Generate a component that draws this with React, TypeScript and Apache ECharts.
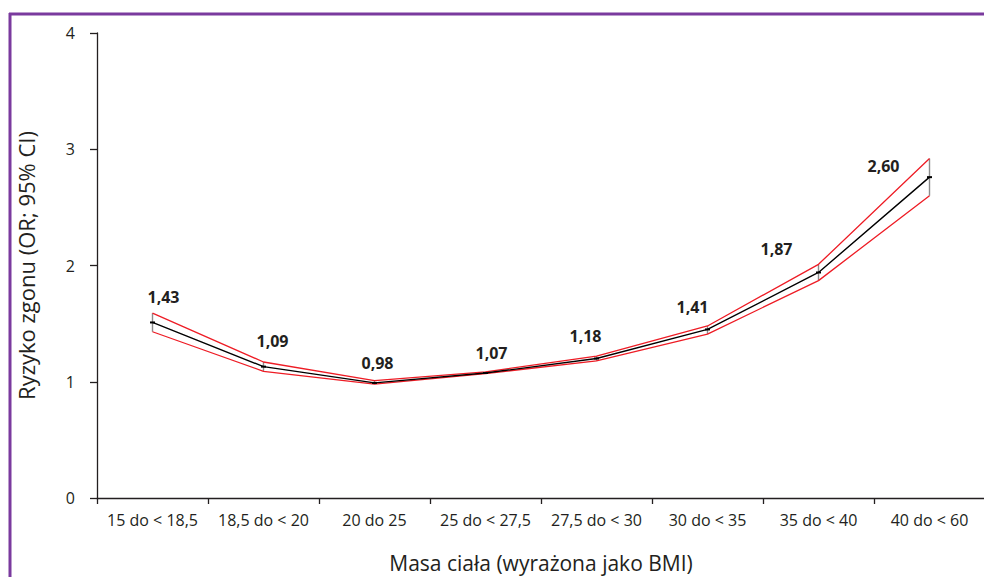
import React, { useEffect, useRef } from "react";
import * as echarts from "echarts";

// BMI groups on the x axis
const categories = [
  "15 do < 18,5",
  "18,5 do < 20",
  "20 do 25",
  "25 do < 27,5",
  "27,5 do < 30",
  "30 do < 35",
  "35 do < 40",
  "40 do < 60",
];

// Odds ratio of death and its 95% confidence interval
const oddsRatio = [1.51, 1.13, 0.99, 1.075, 1.2, 1.45, 1.94, 2.76];
const ciUpper = [1.59, 1.17, 1.01, 1.085, 1.22, 1.48, 2.01, 2.92];
const ciLower = [1.43, 1.09, 0.98, 1.07, 1.18, 1.41, 1.87, 2.6];

// Y axis tick values
const yTicks = [0, 1, 2, 3, 4];

// where each value label sits relative to its lower-bound point
const labelShift: [number, number][] = [
  [11, -35],
  [9, -30],
  [3, -21],
  [6, -21],
  [-11, -25],
  [-15, -27],
  [-42, -32],
  [-46, -30],
];

const FONT = "'Open Sans', 'Noto Sans', sans-serif";
const TEXT = "#231f20";
const RED = "#ee1c25";
const PURPLE = "#7a3a9e";

const fmt = (v: number) => v.toFixed(2).replace(".", ",");

export default function App() {
  const ref = useRef<HTMLDivElement>(null);

  useEffect(() => {
    document.body.style.margin = "0";
    if (!ref.current) return;
    const chart = echarts.init(ref.current, undefined, { renderer: "svg" });

    chart.setOption({
      animation: false,
      backgroundColor: "#ffffff",
      grid: {
        left: 97,
        top: 33,
        width: 888,
        height: 465,
        outerBoundsMode: "none",
        containLabel: false,
      },
      xAxis: {
        type: "category",
        data: categories,
        boundaryGap: true,
        name: "Masa ciała (wyrażona jako BMI)",
        nameLocation: "middle",
        nameGap: 54,
        nameTextStyle: { fontFamily: FONT, fontSize: 21, color: TEXT },
        axisLine: { lineStyle: { color: TEXT, width: 1.3 } },
        axisTick: { show: true, length: 6, lineStyle: { color: TEXT, width: 1.3 } },
        axisLabel: {
          fontFamily: FONT,
          fontSize: 16,
          color: TEXT,
          margin: 14,
          interval: 0,
        },
        splitLine: { show: false },
      },
      yAxis: {
        type: "value",
        min: yTicks[0],
        max: yTicks[yTicks.length - 1],
        interval: 1,
        name: "Ryzyko zgonu (OR; 95% CI)",
        nameLocation: "middle",
        nameGap: 60,
        nameRotate: 90,
        nameTextStyle: { fontFamily: FONT, fontSize: 22, color: TEXT },
        axisLine: { show: true, lineStyle: { color: TEXT, width: 1.3 } },
        axisTick: { show: true, length: 7, lineStyle: { color: TEXT, width: 1.3 } },
        axisLabel: { fontFamily: FONT, fontSize: 16, color: TEXT, margin: 22 },
        splitLine: { show: false },
      },
      graphic: [
        {
          type: "line",
          shape: { x1: 9, y1: 14, x2: 984, y2: 14 },
          style: { stroke: PURPLE, lineWidth: 3 },
          z: 100,
        },
        {
          type: "line",
          shape: { x1: 10, y1: 13, x2: 10, y2: 577 },
          style: { stroke: PURPLE, lineWidth: 3 },
          z: 100,
        },
      ],
      series: [
        {
          name: "CI upper",
          type: "line",
          data: ciUpper,
          symbol: "none",
          lineStyle: { color: RED, width: 1.3 },
          z: 3,
        },
        {
          name: "CI lower",
          type: "line",
          data: ciLower,
          symbol: "none",
          lineStyle: { color: RED, width: 1.3 },
          z: 3,
        },
        {
          name: "CI range",
          type: "custom",
          data: categories.map((_, i) => [i, ciLower[i], ciUpper[i]]),
          renderItem: (params: any, api: any) => {
            const i = api.value(0);
            const lo = api.coord([i, api.value(1)]);
            const hi = api.coord([i, api.value(2)]);
            return {
              type: "line",
              shape: { x1: lo[0], y1: lo[1], x2: hi[0], y2: hi[1] },
              style: { stroke: "#8c8c8c", lineWidth: 1.4 },
            };
          },
          z: 2,
        },
        {
          name: "Labels",
          type: "custom",
          data: ciLower.map((v, i) => [i, v]),
          renderItem: (params: any, api: any) => {
            const i = api.value(0);
            const v = api.value(1);
            const p = api.coord([i, v]);
            const s = labelShift[params.dataIndex];
            return {
              type: "text",
              x: p[0] + s[0],
              y: p[1] + s[1],
              style: {
                text: fmt(v),
                fontFamily: FONT,
                fontWeight: "bold",
                fontSize: 16,
                fill: TEXT,
                align: "center",
                verticalAlign: "middle",
              },
            };
          },
          z: 5,
        },
        {
          name: "OR",
          type: "line",
          data: oddsRatio,
          symbol: "rect",
          symbolSize: [5, 2],
          showSymbol: true,
          itemStyle: { color: "#000000" },
          lineStyle: { color: "#000000", width: 1.4 },
          z: 4,
        },
      ],
    });

    return () => chart.dispose();
  }, []);

  return <div ref={ref} style={{ width: 984, height: 577 }} />;
}
